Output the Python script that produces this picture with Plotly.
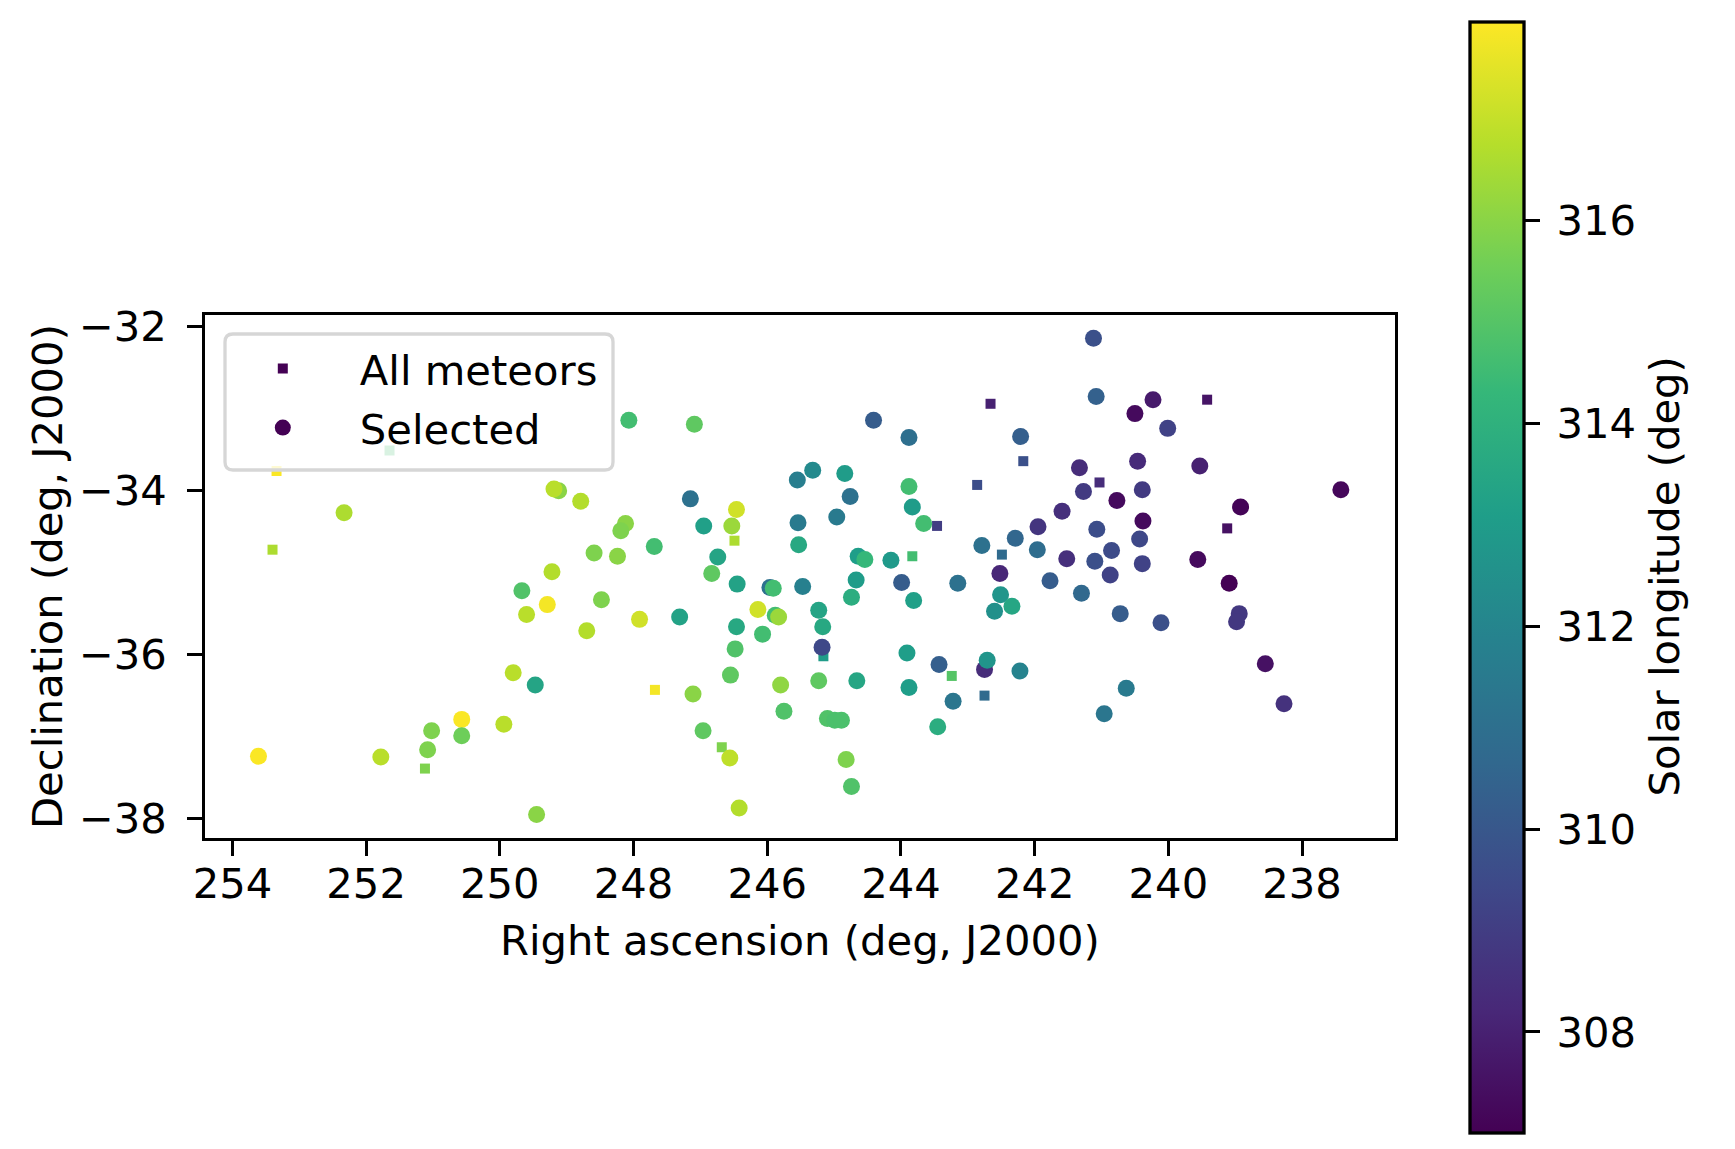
import plotly.graph_objects as go

# ---------------- data ----------------
# "All meteors" (small squares; only those not hidden by selected circles)
all_ra = [251.65, 253.34, 253.40, 251.12, 242.66, 242.86, 243.46, 243.83, 246.49, 242.49,
          242.17, 241.03, 239.42, 239.12, 245.16, 247.68, 243.24, 242.75, 246.68]
all_dec = [-33.51, -33.76, -34.72, -37.39, -32.94, -33.93, -34.43, -34.80, -34.61, -34.78,
           -33.64, -33.90, -32.89, -34.46, -36.02, -36.43, -36.26, -36.50, -37.13]
all_sol = [314.6, 317.9, 316.6, 315.8, 308.0, 309.6, 309.0, 314.6, 316.6, 310.8,
           309.7, 308.4, 307.6, 307.5, 313.0, 317.8, 315.0, 310.8, 315.8]

# "Selected" (circles)
sel_ra = [252.33, 249.12, 249.19, 248.79, 248.59, 249.22, 249.67, 249.29, 248.48, 249.60,
          248.70, 249.80, 249.47, 250.57, 249.94, 251.02, 250.57, 251.08, 253.61, 251.78,
          249.45,
          248.07, 247.09, 244.41, 243.88, 245.32, 245.55, 244.84, 244.76, 243.88, 243.83,
          243.66, 247.15, 246.46, 246.95, 246.53, 245.54, 244.96, 245.53, 248.12, 248.19,
          248.24, 247.69, 246.74, 246.83, 246.45, 245.96, 245.91, 245.47, 244.64, 244.54,
          244.15, 244.67, 243.99, 243.15, 242.79, 242.52, 242.29,
          241.12, 241.08, 240.23, 240.50, 240.01, 242.21, 241.33, 240.46, 239.53, 241.27,
          240.77, 240.39, 237.42, 238.92, 240.38, 241.59, 241.95, 241.07, 240.43, 241.96,
          241.52, 241.10, 240.85, 240.87, 240.39, 239.56, 239.09, 241.77, 241.30,
          242.51, 242.60, 242.34, 240.72, 240.11, 238.94, 238.98, 238.55, 238.27, 242.75,
          242.71, 242.22, 240.63, 240.96, 247.91, 247.31, 244.74, 243.81, 246.14, 245.88,
          245.83, 245.23, 245.17, 245.18, 246.46, 246.07, 246.48, 246.55, 247.11, 245.80,
          245.23, 244.66, 243.91, 243.88, 243.43, 243.22, 243.45, 245.75, 245.10, 244.99,
          244.89, 246.96, 246.56, 244.82, 244.74, 246.42]
sel_dec = [-34.27, -34.00, -33.98, -34.13, -34.76, -34.99, -35.22, -35.39, -35.33, -35.51,
           -35.71, -36.22, -36.37, -36.79, -36.85, -36.93, -36.99, -37.16, -37.24, -37.25,
           -37.95,
           -33.14, -33.19, -33.14, -33.35, -33.75, -33.87, -33.79, -34.07, -33.95, -34.20,
           -34.40, -34.10, -34.23, -34.43, -34.43, -34.39, -34.32, -34.66, -34.40, -34.49,
           -34.80, -34.68, -34.81, -35.01, -35.14, -35.18, -35.19, -35.17, -34.80, -34.84,
           -34.85, -35.09, -35.12, -35.13, -34.67, -35.01, -34.58,
           -32.14, -32.85, -32.89, -33.06, -33.24, -33.34, -33.72, -33.64, -33.70, -34.01,
           -34.12, -33.99, -33.99, -34.20, -34.37, -34.25, -34.44, -34.47, -34.59, -34.72,
           -34.83, -34.86, -34.73, -35.03, -34.89, -34.84, -35.13, -35.10, -35.25,
           -35.27, -35.47, -35.41, -35.50, -35.61, -35.50, -35.60, -36.11, -36.60, -36.18,
           -36.07, -36.20, -36.41, -36.72, -35.57, -35.54, -35.30, -35.34, -35.45, -35.52,
           -35.54, -35.46, -35.66, -35.91, -35.66, -35.75, -35.93, -36.25, -36.48, -36.37,
           -36.32, -36.32, -35.98, -36.40, -36.12, -36.57, -36.88, -36.69, -36.78, -36.80,
           -36.80, -36.93, -37.26, -37.28, -37.61, -37.87]
sel_sol = [316.6, 316.0, 316.8, 316.7, 315.8, 316.7, 314.9, 317.8, 315.8, 316.8,
           316.7, 316.8, 313.4, 317.9, 316.8, 315.8, 315.5, 315.8, 317.9, 316.8,
           316.0,
           314.6, 315.2, 310.2, 311.0, 312.2, 311.7, 313.0, 311.1, 314.6, 313.0,
           314.6, 311.1, 317.2, 313.2, 316.3, 311.5, 311.5, 313.6, 316.0, 315.8,
           316.0, 314.6, 313.4, 315.2, 313.3, 311.1, 314.6, 311.8, 313.1, 314.3,
           312.9, 313.0, 310.2, 311.1, 311.1, 308.2, 310.6,
           309.7, 310.4, 307.8, 307.3, 309.2, 310.3, 308.4, 308.3, 308.0, 308.9,
           307.3, 308.9, 307.2, 307.1, 307.3, 308.5, 308.7, 309.6, 309.4, 310.9,
           308.5, 309.7, 309.5, 309.2, 309.2, 307.3, 307.01, 310.2, 310.7,
           312.7, 312.5, 313.5, 310.2, 309.7, 308.8, 308.8, 307.5, 308.6, 308.4,
           312.7, 311.9, 311.5, 311.3, 317.2, 313.3, 313.8, 313.2, 317.2, 314.6,
           316.3, 313.4, 313.6, 309.4, 313.6, 314.6, 314.9, 315.2, 316.0, 316.1,
           315.2, 313.5, 313.1, 313.1, 310.3, 311.3, 313.8, 314.9, 314.9, 314.8,
           314.8, 315.2, 316.9, 315.8, 314.9, 316.7]

x_ticks = [254, 252, 250, 248, 246, 244, 242, 240, 238]
x_ticktext = ["254", "252", "250", "248", "246", "244", "242", "240", "238"]
y_ticks = [-32, -34, -36, -38]
y_ticktext = ["\u221232", "\u221234", "\u221236", "\u221238"]
cb_ticks = [308, 310, 312, 314, 316]
cb_ticktext = ["\u2009308", "\u2009310", "\u2009312", "\u2009314", "\u2009316"]

sol_min, sol_max = 307.007, 317.957
x_range = [254.41, 236.61]
y_range = [-38.237, -31.857]

# ---------------- layout geometry (reference pixel coords) ----------------
W, H = 1735, 1149
OFF = 8  # default page body margin offsets the figure
L, R, T, B = 205, 1395, 315, 838
FONT = "DejaVu Sans"
FS = 41.7
LW = 3.3
DARK = "#440154"
CB_TOP, CB_BOT, CB_LEFT = 21.7, 1132.7, 1469.5

def pxx(xp):
    return (xp - L) / (R - L)

def pyy(yp):
    return (B - yp) / (B - T)

fig = go.Figure()

fig.add_trace(go.Scatter(
    x=all_ra, y=all_dec, mode="markers", showlegend=False,
    marker=dict(symbol="square", size=10, color=all_sol, coloraxis="coloraxis",
                line=dict(width=0)),
))
fig.add_trace(go.Scatter(
    x=sel_ra, y=sel_dec, mode="markers", showlegend=False,
    marker=dict(symbol="circle", size=17, color=sel_sol, coloraxis="coloraxis",
                line=dict(width=0)),
))
# legend entries
fig.add_trace(go.Scatter(
    x=[None], y=[None], mode="markers", name="All meteors", legendgroup="a",
    marker=dict(symbol="square", size=10, color=DARK, line=dict(width=0)),
))
fig.add_trace(go.Scatter(
    x=[None], y=[None], mode="markers", name="Selected", legendgroup="b",
    marker=dict(symbol="circle", size=17, color=DARK, line=dict(width=0)),
))

# rounded legend frame
bx0, bx1, by0, by1, rr = 225, 613, 334, 470, 8
def P(x, y):
    return f"{pxx(x):.5f},{pyy(y):.5f}"
path = (f"M {P(bx0 + rr, by0)} L {P(bx1 - rr, by0)} Q {P(bx1, by0)} {P(bx1, by0 + rr)} "
        f"L {P(bx1, by1 - rr)} Q {P(bx1, by1)} {P(bx1 - rr, by1)} "
        f"L {P(bx0 + rr, by1)} Q {P(bx0, by1)} {P(bx0, by1 - rr)} "
        f"L {P(bx0, by0 + rr)} Q {P(bx0, by0)} {P(bx0 + rr, by0)} Z")

axis_common = dict(
    showline=True, mirror=True, linecolor="black", linewidth=LW,
    ticks="outside", ticklen=14.6, tickwidth=LW, tickcolor="black",
    showgrid=False, zeroline=False,
    tickfont=dict(family=FONT, size=FS, color="black"),
)

fig.update_layout(
    width=W - OFF, height=H - OFF,
    margin=dict(l=L - OFF, r=W - R, t=T - OFF, b=H - B, autoexpand=False),
    paper_bgcolor="white", plot_bgcolor="white",
    font=dict(family=FONT, size=FS, color="black"),
    xaxis=dict(range=x_range, tickvals=x_ticks, ticktext=x_ticktext,
               ticklabelstandoff=-8, **axis_common),
    yaxis=dict(range=y_range, tickvals=y_ticks, ticktext=y_ticktext,
               ticklabelstandoff=12, **axis_common),
    coloraxis=dict(
        colorscale="Viridis", cmin=sol_min, cmax=sol_max,
        colorbar=dict(
            xref="paper", yref="paper",
            x=pxx(CB_LEFT), xanchor="left", xpad=0,
            y=pyy((CB_TOP + CB_BOT) / 2), yanchor="middle", ypad=0,
            lenmode="fraction", len=(CB_BOT - CB_TOP) / (B - T), thickness=54,
            outlinewidth=LW, outlinecolor="black",
            ticks="outside", ticklen=14.6, tickwidth=LW, tickcolor="black",
            tickvals=cb_ticks, ticktext=cb_ticktext,
            tickfont=dict(family=FONT, size=FS, color="black"),
        ),
    ),
    showlegend=True,
    legend=dict(
        x=pxx(205.8), y=pyy(334.8), xanchor="left", yanchor="top",
        bgcolor="rgba(0,0,0,0)", borderwidth=0,
        font=dict(family=FONT, size=FS, color="black"),
        itemwidth=144, tracegroupgap=2,
    ),
    shapes=[dict(type="path", xref="paper", yref="paper", path=path,
                 fillcolor="rgba(255,255,255,0.8)",
                 line=dict(color="#d6d6d6", width=3.3), layer="above")],
    annotations=[
        dict(text="Right ascension (deg, J2000)", xref="paper", yref="paper",
             x=0.5, y=pyy(940), xanchor="center", yanchor="middle", showarrow=False,
             font=dict(family=FONT, size=FS, color="black")),
        dict(text="Declination (deg, J2000)", xref="paper", yref="paper",
             x=pxx(47.5), y=0.5, xanchor="center", yanchor="middle", showarrow=False,
             textangle=-90, font=dict(family=FONT, size=FS, color="black")),
        dict(text="Solar longitude (deg)", xref="paper", yref="paper",
             x=pxx(1663.5), y=pyy(577), xanchor="center", yanchor="middle", showarrow=False,
             textangle=-90, font=dict(family=FONT, size=FS, color="black")),
    ],
)

fig.write_html("out.html")
